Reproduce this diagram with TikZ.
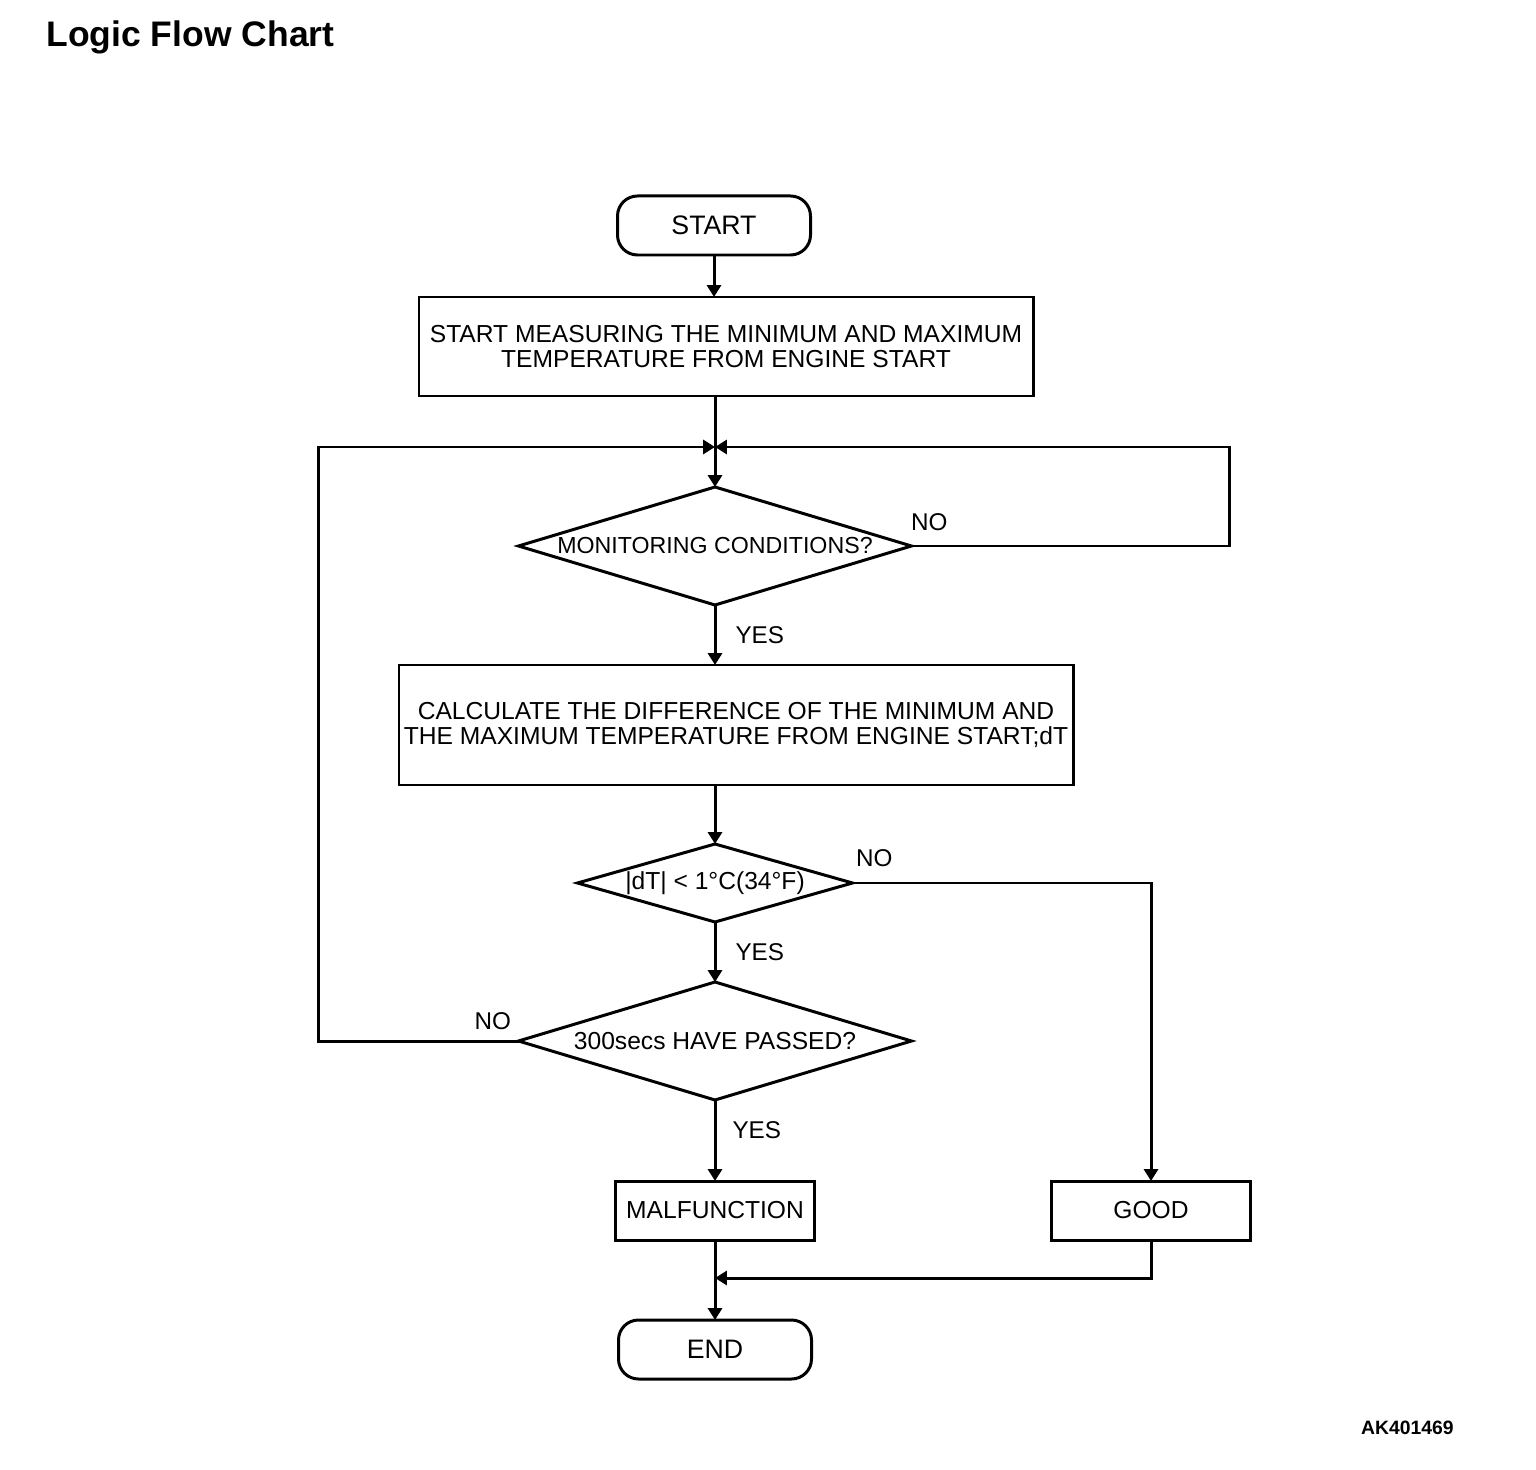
\documentclass[tikz,border=0pt]{standalone}
\usepackage{fontspec}
\setmainfont{Liberation Sans}
\usetikzlibrary{arrows.meta,positioning,shapes.geometric}

\begin{document}
\begin{tikzpicture}[node distance=0.6cm,line width=0.85pt,
  >={Triangle[length=3.4pt,width=4pt]},
  terminal/.style={draw,rounded corners=0.2cm,minimum width=1.93cm,minimum height=0.59cm,inner sep=0pt,outer sep=0pt,font=\fontsize{7.6}{9}\selectfont},
  process/.style={draw,align=center,inner sep=0pt,outer sep=0pt,font=\fontsize{7}{7.3}\selectfont},
  decision/.style={draw,diamond,inner sep=0pt,outer sep=0pt,aspect=3.3,font=\fontsize{7}{8}\selectfont},
  answer/.style={inner sep=0pt,font=\fontsize{6.9}{8}\selectfont}]
  \useasboundingbox (0,0) rectangle (15.36,-14.70);
  \node[anchor=base west,inner sep=0pt,font=\bfseries\fontsize{10.1}{12}\selectfont] (title) at (0.45,-0.47){Logic Flow Chart};
  \node[terminal] (start) at (7.14,-2.255){START};
  \node[process,minimum width=6.14cm,minimum height=0.99cm,below=0.42cm of start,xshift=0.12cm] (measure){START MEASURING THE MINIMUM AND MAXIMUM\\TEMPERATURE FROM ENGINE START};
  \node[decision,minimum width=3.93cm,minimum height=1.18cm,below=0.91cm of measure,xshift=-0.11cm,font=\fontsize{6.6}{8}\selectfont] (cond){MONITORING CONDITIONS?};
  \node[process,minimum width=6.74cm,minimum height=1.20cm,below=0.6cm of cond,xshift=0.21cm] (calc){CALCULATE THE DIFFERENCE OF THE MINIMUM AND\\THE MAXIMUM TEMPERATURE FROM ENGINE START;dT};
  \node[decision,aspect=3.5,minimum width=2.75cm,minimum height=0.78cm,below=0.59cm of calc,xshift=-0.21cm] (check){|dT| < 1\textdegree C(34\textdegree F)};
  \node[decision,minimum width=3.93cm,minimum height=1.18cm,below=0.6cm of check] (timer){300secs HAVE PASSED?};
  \node[process,minimum width=1.99cm,minimum height=0.59cm,below=0.81cm of timer] (malf){MALFUNCTION};
  \node[process,minimum width=1.99cm,minimum height=0.59cm,right=2.37cm of malf] (good){GOOD};
  \node[terminal,below=0.80cm of malf] (end){END};
  % junctions
  \path (cond.north) ++(0,0.40) coordinate (merge);
  \path (malf.south) ++(0,-0.38) coordinate (join);
  \draw[->] (start.south) -- (start.south |- measure.north);
  \draw[->] (measure.south -| cond.north) -- (cond.north);
  \draw[->] (cond.east) -- ++(3.18,0) |- (merge);
  \draw[->] (cond.south) -- node[answer,right=0.19cm]{YES} (cond.south |- calc.north);
  \draw[->] (calc.south -| check.north) -- (check.north);
  \draw[->] (check.east) -| (good.north);
  \draw[->] (check.south) -- node[answer,right=0.19cm]{YES} (timer.north);
  \draw[->] (timer.west) -- ++(-2.0,0) |- (merge);
  \draw[->] (timer.south) -- node[answer,right=0.16cm,pos=0.37]{YES} (malf.north);
  \draw[->] (good.south) |- (join);
  \draw[->] (malf.south) -- (end.north);
  \node[answer,anchor=south west] (no1) at ([xshift=-0.02cm,yshift=0.14cm]cond.east){NO};
  \node[answer,anchor=south west] (no2) at ([xshift=0.02cm,yshift=0.15cm]check.east){NO};
  \node[answer,anchor=south east] (no3) at ([xshift=-0.06cm,yshift=0.10cm]timer.west){NO};
  \node[anchor=east,inner sep=0pt,font=\bfseries\fontsize{5.5}{6}\selectfont] (code) at (14.55,-14.28){AK401469};
\end{tikzpicture}
\end{document}
